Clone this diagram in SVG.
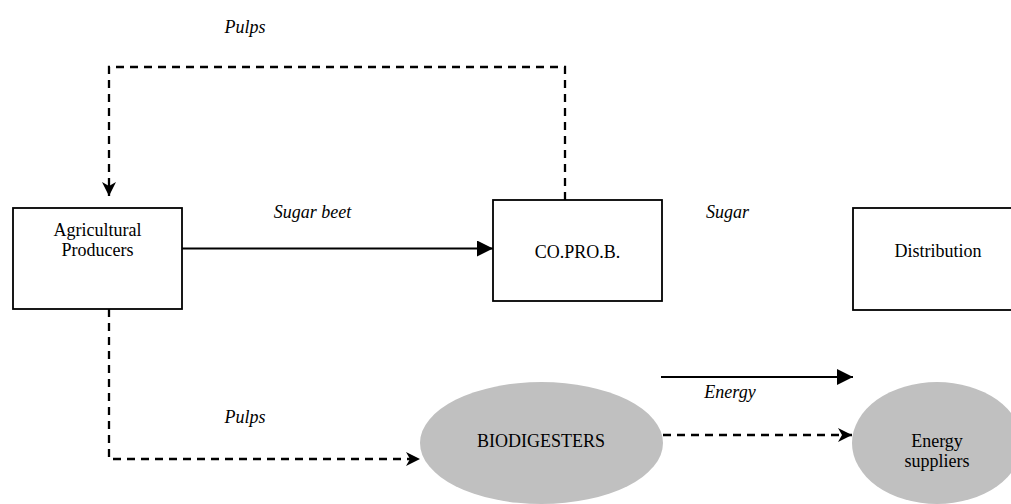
<svg xmlns="http://www.w3.org/2000/svg" width="1011" height="504" viewBox="0 0 1011 504">
  <style>
    .box { fill: #ffffff; stroke: #000000; stroke-width: 1.8; }
    .ell { fill: #c0c0c0; stroke: none; }
    .t { font-family: "Liberation Serif", "Times New Roman", serif; font-size: 18px; fill: #000000; text-anchor: middle; }
    .lbl { font-family: "Liberation Serif", "Times New Roman", serif; font-size: 18px; font-style: italic; fill: #000000; text-anchor: middle; }
    .solid { fill: none; stroke: #000000; stroke-width: 2.2; }
    .dash { fill: none; stroke: #000000; stroke-width: 2.3; stroke-dasharray: 8 6; }
  </style>
  <defs>
    <marker id="solidHead" markerUnits="userSpaceOnUse" markerWidth="18" markerHeight="16" refX="16" refY="8" orient="auto">
      <polygon points="0,0 16,8 0,16" fill="#000000"/>
    </marker>
    <marker id="notchHead" markerUnits="userSpaceOnUse" markerWidth="16" markerHeight="16" refX="14" refY="7" orient="auto">
      <polygon points="0,0 14,7 0,14 4,7" fill="#000000"/>
    </marker>
  </defs>
  <rect width="1011" height="504" fill="#ffffff"/>

  <g id="connectors">
    <path class="dash" d="M565,200 L565,67 L109,67 L109,196" marker-end="url(#notchHead)"/>
    <path class="solid" d="M182,248.5 L493,248.5" marker-end="url(#solidHead)"/>
    <path class="dash" d="M109,309 L109,459 L420,459" marker-end="url(#notchHead)"/>
    <path class="dash" d="M663,435 L852,435" marker-end="url(#notchHead)"/>
    <path class="solid" d="M661,377 L853,377" marker-end="url(#solidHead)"/>
    <text class="lbl" x="245" y="33">Pulps</text>
    <text class="lbl" x="312.5" y="218">Sugar beet</text>
    <text class="lbl" x="727.5" y="218">Sugar</text>
    <text class="lbl" x="730" y="398">Energy</text>
    <text class="lbl" x="245" y="423">Pulps</text>
  </g>

  <g id="agricultural-producers">
    <rect class="box" x="13" y="208" width="169" height="101"/>
    <text class="t" x="97.5" y="236">Agricultural</text>
    <text class="t" x="97.5" y="256">Producers</text>
  </g>

  <g id="coprob">
    <rect class="box" x="493" y="200" width="169" height="101"/>
    <text class="t" x="577.5" y="258">CO.PRO.B.</text>
  </g>

  <g id="distribution">
    <rect class="box" x="853" y="208" width="169" height="102"/>
    <text class="t" x="938" y="257">Distribution</text>
  </g>

  <g id="biodigesters">
    <ellipse class="ell" cx="541.5" cy="443" rx="121.5" ry="61"/>
    <text class="t" x="541" y="447">BIODIGESTERS</text>
  </g>

  <g id="energy-suppliers">
    <ellipse class="ell" cx="937" cy="443" rx="85" ry="61"/>
    <text class="t" x="937" y="447">Energy</text>
    <text class="t" x="937" y="467">suppliers</text>
  </g>
</svg>
